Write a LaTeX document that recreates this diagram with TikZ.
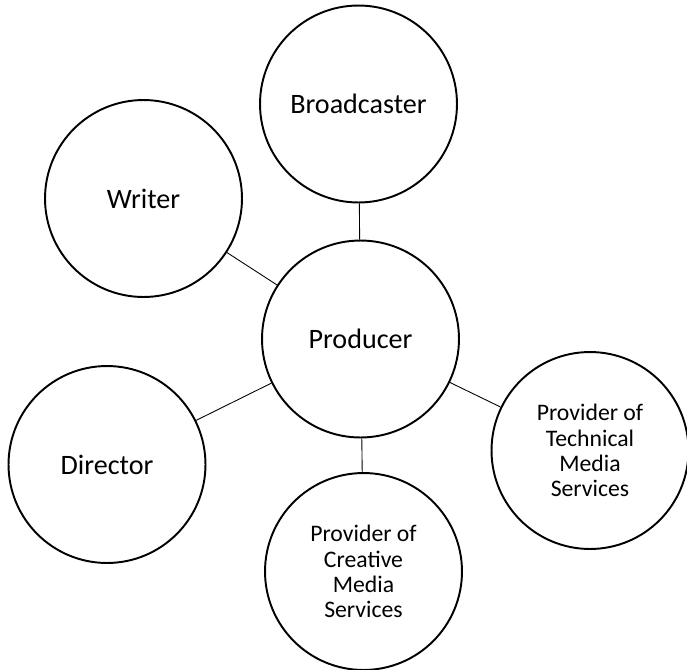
\documentclass[tikz,border=0pt]{standalone}
\usepackage{fontspec}
\setmainfont{Carlito}
\tikzset{
 role/.style={circle, draw, line width=1.1pt, minimum size=3.94cm, inner sep=0pt,
  align=center, font=\fontsize{16}{19}\selectfont},
 provider/.style={role, font=\fontsize{13.5}{14.4}\selectfont},
 link/.style={line width=0.5pt}
}

\begin{document}
\begin{tikzpicture}[x=0.02cm, y=-0.02cm]
 \useasboundingbox (0, 0) rectangle (687, 670);

 \node [role] (producer) at (360.5, 339) {Producer};
 \node [role] (broadcaster) at (358.5, 104) {Broadcaster};
 \node [role] (writer) at (143.5, 198.5) {Writer};
 \node [role] (director) at (107, 464.5) {Director};
 \node [provider] (technical) at (590, 450.5) {Provider of\\Technical\\Media\\Services};
 \node [provider] (creative) at (363.5, 571.5) {Provider of\\Creative\\Media\\Services};

 \draw [link] (producer) -- (broadcaster);
 \draw [link] (producer) -- (writer);
 \draw [link] (producer) -- (director);
 \draw [link] (producer) -- (technical);
 \draw [link] (producer) -- (creative);
\end{tikzpicture}
\end{document}
